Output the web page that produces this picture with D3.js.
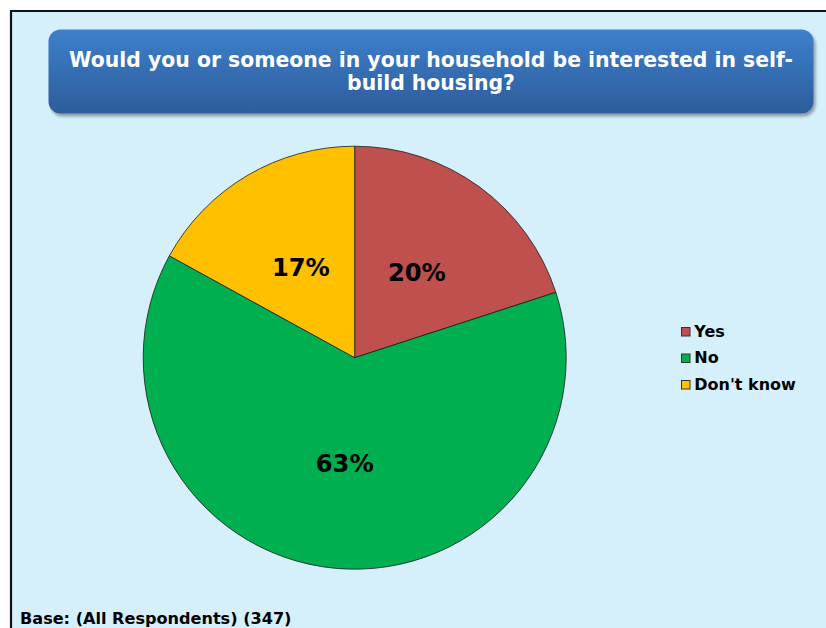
<!DOCTYPE html>
<html>
<head>
<meta charset="utf-8">
<script src="https://cdn.jsdelivr.net/npm/d3@7"></script>
<style>
  html, body { margin: 0; padding: 0; background: #ffffff; }
  svg { display: block; font-family: "DejaVu Sans", Verdana, sans-serif; }
</style>
</head>
<body>
<svg id="chart" width="826" height="628"></svg>
<script>
// Survey responses
const categories = ["Yes", "No", "Don't know"];
const values = [20, 63, 17];
const colors = ["#c0504d", "#00b050", "#ffc000"];
const titleLines = ["Would you or someone in your household be interested in self-", "build housing?"];
const footnote = "Base: (All Respondents) (347)";

const svg = d3.select("#chart");
const W = 826, H = 628;

// Panel background with a dark frame on the left and top
svg.append("rect").attr("x", 0).attr("y", 0).attr("width", W).attr("height", H).attr("fill", "#ffffff");
svg.append("rect").attr("x", 12).attr("y", 11).attr("width", W - 12).attr("height", H - 11).attr("fill", "#d5f0fb");
svg.append("line").attr("x1", 11).attr("x2", 11).attr("y1", 10).attr("y2", H).attr("stroke", "#111").attr("stroke-width", 2.2);
svg.append("line").attr("x1", 10).attr("x2", W).attr("y1", 11).attr("y2", 11).attr("stroke", "#111").attr("stroke-width", 2.2);

// Title banner
const defs = svg.append("defs");
const grad = defs.append("linearGradient").attr("id", "titleGrad").attr("x1", 0).attr("x2", 0).attr("y1", 0).attr("y2", 1);
grad.append("stop").attr("offset", "0%").attr("stop-color", "#3d80cc");
grad.append("stop").attr("offset", "100%").attr("stop-color", "#2d5c9b");
const shadow = defs.append("filter").attr("id", "shadow").attr("x", -0.05).attr("y", -0.2).attr("width", 1.1).attr("height", 1.5);
shadow.append("feGaussianBlur").attr("in", "SourceAlpha").attr("stdDeviation", 1.6);
shadow.append("feOffset").attr("dx", 1.5).attr("dy", 2.5).attr("result", "off");
shadow.append("feComponentTransfer").append("feFuncA").attr("type", "linear").attr("slope", 0.35);
const merge = shadow.append("feMerge");
merge.append("feMergeNode");
merge.append("feMergeNode").attr("in", "SourceGraphic");

svg.append("rect")
  .attr("x", 48.5).attr("y", 29.5).attr("width", 765).attr("height", 84)
  .attr("rx", 12).attr("ry", 12)
  .attr("fill", "url(#titleGrad)")
  .attr("filter", "url(#shadow)");

const title = svg.append("text")
  .attr("text-anchor", "middle")
  .attr("fill", "#ffffff")
  .attr("font-weight", "bold")
  .attr("font-size", 20.4);
titleLines.forEach((line, i) => {
  title.append("tspan").attr("x", 431).attr("y", 66.8 + i * 23.5).text(line);
});

// Pie
const cx = 354.7, cy = 357.7, R = 211.5;
const pie = d3.pie().sort(null).value(d => d.value);
const arcs = pie(categories.map((c, i) => ({ name: c, value: values[i], color: colors[i] })));
const arc = d3.arc().innerRadius(0).outerRadius(R);
const labelArc = d3.arc().innerRadius(R * 0.5).outerRadius(R * 0.5);

const g = svg.append("g").attr("transform", `translate(${cx},${cy})`);
g.selectAll("path.slice")
  .data(arcs)
  .join("path")
  .attr("class", "slice")
  .attr("d", arc)
  .attr("fill", d => d.data.color)
  .attr("stroke", "#1a1a1a")
  .attr("stroke-width", 0.8);

g.selectAll("text.pct")
  .data(arcs)
  .join("text")
  .attr("class", "pct")
  .attr("transform", d => {
    const [x, y] = labelArc.centroid(d);
    return `translate(${x},${y})`;
  })
  .attr("text-anchor", "middle")
  .attr("dy", "0.38em")
  .attr("font-size", 24.2)
  .attr("font-weight", "bold")
  .attr("fill", "#000")
  .text(d => d.data.value + "%");

// Legend
const legend = svg.append("g").attr("transform", "translate(681,327)");
const rows = legend.selectAll("g.row")
  .data(categories)
  .join("g")
  .attr("class", "row")
  .attr("transform", (d, i) => `translate(0,${i * 26.5})`);
rows.append("rect")
  .attr("x", 0.5).attr("y", 0.5).attr("width", 8.5).attr("height", 8.5)
  .attr("fill", (d, i) => colors[i])
  .attr("stroke", "#333").attr("stroke-width", 1);
rows.append("text")
  .attr("x", 13.3).attr("y", 9.8)
  .attr("font-size", 16)
  .attr("font-weight", "bold")
  .attr("fill", "#000")
  .text(d => d);

// Footnote
svg.append("text")
  .attr("x", 20).attr("y", 624.3)
  .attr("font-size", 16.1)
  .attr("font-weight", "bold")
  .attr("fill", "#000")
  .text(footnote);
</script>
</body>
</html>
